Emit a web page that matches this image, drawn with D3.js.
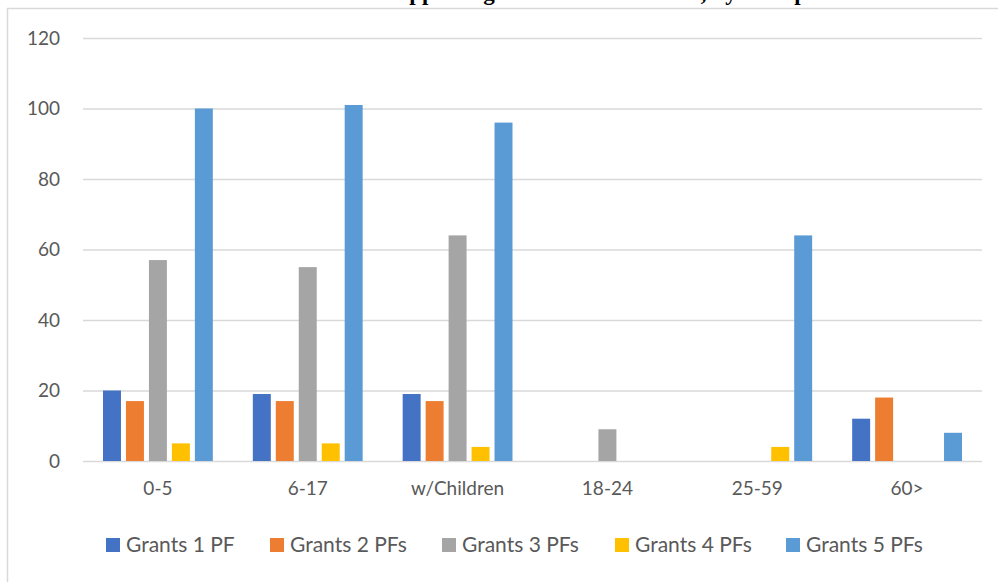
<!DOCTYPE html>
<html>
<head>
<meta charset="utf-8">
<script src="https://cdn.jsdelivr.net/npm/d3@7"></script>
<style>
  html, body { margin: 0; padding: 0; background: #fff; }
  svg { display: block; }
</style>
</head>
<body>
<svg id="chart" width="998" height="582"></svg>
<script>
// Age groups along the x axis
const categories = ["0-5", "6-17", "w/Children", "18-24", "25-59", "60>"];
// Series names (legend order)
const seriesNames = ["Grants 1 PF", "Grants 2 PFs", "Grants 3 PFs", "Grants 4 PFs", "Grants 5 PFs"];
// Values per series, one entry per age group
const grants1 = [20, 19, 19, 0, 0, 12];
const grants2 = [17, 17, 17, 0, 0, 18];
const grants3 = [57, 55, 64, 9, 0, 0];
const grants4 = [5, 5, 4, 0, 4, 0];
const grants5 = [100, 101, 96, 0, 64, 8];
const yTicks = [0, 20, 40, 60, 80, 100, 120];
const titleText = "Number of Grants Supporting Children and Adults, by Group";

const seriesValues = [grants1, grants2, grants3, grants4, grants5];
const colors = ["#4472C4", "#ED7D31", "#A5A5A5", "#FFC000", "#5B9BD5"];

const svg = d3.select("#chart");
const font = "Lato, 'Open Sans', sans-serif";
const textColor = "#595959";
const gridColor = "#D9D9D9";

// Title sits above the chart frame, running off the top edge
svg.append("text")
  .attr("x", 502)
  .attr("y", 0)
  .attr("text-anchor", "middle")
  .attr("font-family", "'Liberation Serif', 'Times New Roman', serif")
  .attr("font-weight", "bold")
  .attr("font-size", 23)
  .attr("fill", "#000")
  .text(titleText);

// Chart frame
svg.append("rect")
  .attr("x", 7.5).attr("y", 8.5)
  .attr("width", 1200).attr("height", 800)
  .attr("fill", "none")
  .attr("stroke", gridColor)
  .attr("stroke-width", 1.5);

const plot = { left: 83, right: 982, top: 38, bottom: 461 };

const x0 = d3.scaleBand()
  .domain(categories)
  .range([plot.left, plot.right])
  .padding(0);

const x1 = d3.scaleBand()
  .domain(seriesNames)
  .range([20, x0.bandwidth() - 20])
  .paddingInner(5 / 23)
  .paddingOuter(0);

const y = d3.scaleLinear()
  .domain([0, 120])
  .range([plot.bottom, plot.top]);

// Horizontal gridlines and y tick labels
const yAxis = d3.axisLeft(y)
  .tickValues(yTicks)
  .tickSize(-(plot.right - plot.left))
  .tickPadding(23);

const gy = svg.append("g")
  .attr("transform", `translate(${plot.left},0)`)
  .call(yAxis);
gy.select(".domain").remove();
gy.selectAll(".tick line")
  .attr("stroke", gridColor)
  .attr("stroke-width", 1.3);
gy.selectAll(".tick text")
  .attr("fill", textColor)
  .attr("font-family", font)
  .attr("font-size", 19);

// Category labels
const xAxis = d3.axisBottom(x0).tickSize(0).tickPadding(21);
const gx = svg.append("g")
  .attr("transform", `translate(0,${plot.bottom})`)
  .call(xAxis);
gx.select(".domain").remove();
gx.selectAll(".tick text")
  .attr("fill", textColor)
  .attr("font-family", font)
  .attr("font-size", 19);

// Grouped bars
const groups = svg.append("g")
  .selectAll("g")
  .data(categories)
  .join("g")
  .attr("transform", d => `translate(${x0(d)},0)`);

groups.selectAll("rect")
  .data((c, ci) => seriesNames.map((s, si) => ({ s, si, v: seriesValues[si][ci] })))
  .join("rect")
  .filter(d => d.v > 0)
  .attr("x", d => x1(d.s))
  .attr("width", x1.bandwidth())
  .attr("y", d => y(d.v))
  .attr("height", d => y(0) - y(d.v))
  .attr("fill", d => colors[d.si]);

// Legend
const legendX = [106, 270, 442, 615, 786];
const legend = svg.append("g")
  .selectAll("g")
  .data(seriesNames)
  .join("g")
  .attr("transform", (d, i) => `translate(${legendX[i]},538)`);
legend.append("rect")
  .attr("width", 14).attr("height", 14)
  .attr("fill", (d, i) => colors[i]);
legend.append("text")
  .attr("x", 20)
  .attr("y", 14)
  .attr("fill", textColor)
  .attr("font-family", font)
  .attr("font-size", 21)
  .text(d => d);
</script>
</body>
</html>
